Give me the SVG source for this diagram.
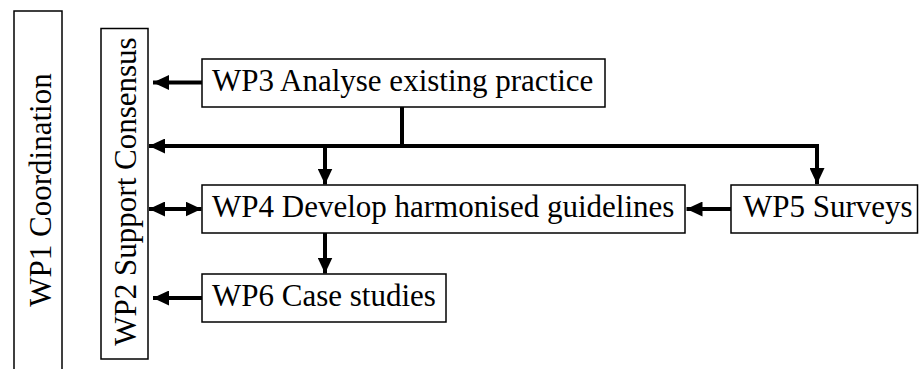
<svg xmlns="http://www.w3.org/2000/svg" width="919" height="369" viewBox="0 0 919 369">
<style>
.box{fill:#fff;stroke:#000;stroke-width:1.5}
.lbl{font-size:31px;fill:#000}
.con{fill:none;stroke:#000;stroke-width:4}
</style>
<defs>
<marker id="ah" markerUnits="userSpaceOnUse" markerWidth="17" markerHeight="15" refX="16" refY="7.5" orient="auto-start-reverse">
<path d="M0,0 L16,7.5 L0,15 Z" fill="#000"/>
</marker>
</defs>
<rect width="919" height="369" fill="#fff"/>
<g id="wp1">
<rect class="box" x="14" y="11" width="48" height="370"/>
<text class="lbl" font-family="'Liberation Serif', 'Times New Roman', Times, serif" transform="translate(51,190) rotate(-90)" text-anchor="middle">WP1 Coordination</text>
</g>
<g id="wp2">
<rect class="box" x="101" y="28.5" width="47" height="330.5"/>
<text class="lbl" font-family="'Liberation Serif', 'Times New Roman', Times, serif" transform="translate(136,191.5) rotate(-90)" text-anchor="middle">WP2 Support Consensus</text>
</g>
<g id="wp3">
<rect class="box" x="202" y="59" width="403" height="48"/>
<text class="lbl" font-family="'Liberation Serif', 'Times New Roman', Times, serif" x="212" y="91">WP3 Analyse existing practice</text>
</g>
<g id="wp4">
<rect class="box" x="202" y="185" width="483" height="48"/>
<text class="lbl" font-family="'Liberation Serif', 'Times New Roman', Times, serif" x="212" y="217">WP4 Develop harmonised guidelines</text>
</g>
<g id="wp5">
<rect class="box" x="731" y="185" width="186.5" height="48"/>
<text class="lbl" font-family="'Liberation Serif', 'Times New Roman', Times, serif" x="743" y="217">WP5 Surveys</text>
</g>
<g id="wp6">
<rect class="box" x="202" y="274" width="244" height="48"/>
<text class="lbl" font-family="'Liberation Serif', 'Times New Roman', Times, serif" x="212" y="306">WP6 Case studies</text>
</g>
<g id="connectors">
<line class="con" x1="202" y1="82.5" x2="153" y2="82.5" marker-end="url(#ah)"/>
<line class="con" x1="402" y1="107" x2="402" y2="146"/>
<polyline class="con" points="817,184 817,146 149,146" marker-start="url(#ah)" marker-end="url(#ah)"/>
<line class="con" x1="325" y1="146" x2="325" y2="184.5" marker-end="url(#ah)"/>
<line class="con" x1="149" y1="209" x2="201.5" y2="209" marker-start="url(#ah)" marker-end="url(#ah)"/>
<line class="con" x1="731" y1="209" x2="686.5" y2="209" marker-end="url(#ah)"/>
<line class="con" x1="325" y1="233" x2="325" y2="273.5" marker-end="url(#ah)"/>
<line class="con" x1="202" y1="298" x2="153" y2="298" marker-end="url(#ah)"/>
</g>
</svg>
